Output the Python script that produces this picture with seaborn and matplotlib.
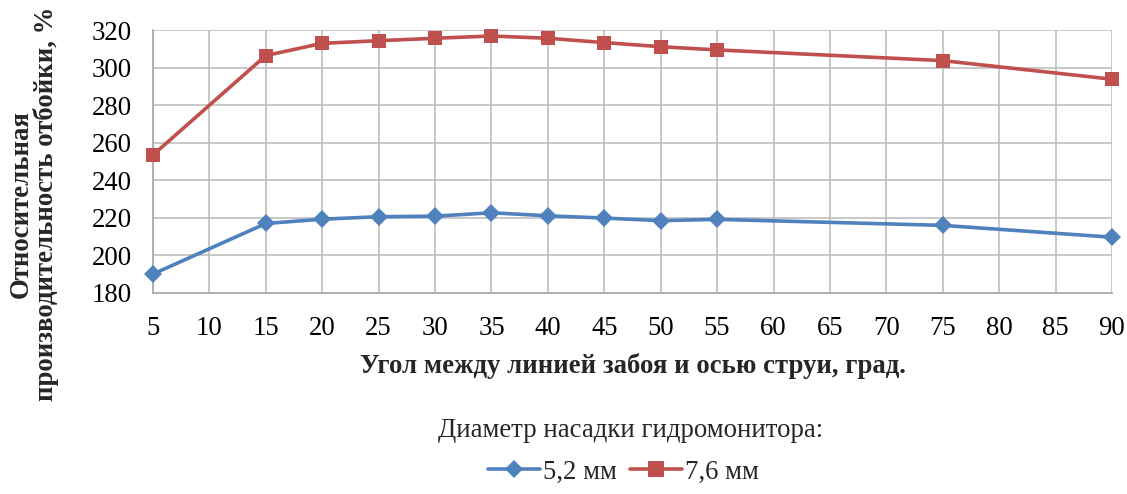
import matplotlib
matplotlib.use("Agg")
import matplotlib.pyplot as plt
import seaborn as sns
import pandas as pd
from matplotlib.lines import Line2D

angles = [5, 15, 20, 25, 30, 35, 40, 45, 50, 55, 75, 90]
d52 = [190.1, 217.0, 219.3, 220.6, 220.9, 222.7, 221.1, 219.9, 218.5, 219.2, 216.0, 209.7]
d76 = [253.5, 306.4, 312.9, 314.3, 315.6, 316.8, 315.6, 313.3, 311.1, 309.4, 303.7, 293.8]
series_names = ["5,2 мм", "7,6 мм"]
x_ticks = list(range(5, 95, 5))
y_ticks = list(range(180, 340, 20))

sns.set_theme(style="white")
plt.rcParams['font.family'] = ['Liberation Serif', 'DejaVu Serif']

df = pd.DataFrame({
    "angle": angles * 2,
    "value": d52 + d76,
    "series": [series_names[0]] * len(angles) + [series_names[1]] * len(angles),
})

FS = 19.3

fig = plt.figure(figsize=(11.27, 4.94), dpi=100)
ax = fig.add_axes([153/1127, 1 - 293/494, (1112-153)/1127, (293-30)/494])

palette = {series_names[0]: "#4F81BD", series_names[1]: "#C0504D"}
markers = {series_names[0]: "D", series_names[1]: "s"}
sns.lineplot(data=df, x="angle", y="value", hue="series", style="series",
             palette=palette, markers=markers, dashes=False, linewidth=2.6,
             markersize=10, markeredgewidth=0, ax=ax, legend=False, zorder=3)
for line in ax.lines:
    line.set_clip_on(False)
    if line.get_marker() == "D":
        line.set_markersize(9)

ax.set_xlim(5, 90)
ax.set_ylim(180, 320)
ax.set_xticks(x_ticks)
ax.set_yticks(y_ticks)
ax.grid(True, color="#BFBFBF", linewidth=1.2, zorder=0)
for s in ["top", "right"]:
    ax.spines[s].set_visible(False)
for s in ["left", "bottom"]:
    ax.spines[s].set_color("#A6A6A6")
    ax.spines[s].set_linewidth(1.2)
ax.tick_params(axis="both", which="major", direction="out", length=5, width=1.2,
               color="#A6A6A6", labelsize=FS, labelcolor="black")
ax.tick_params(axis="y", pad=10)
ax.tick_params(axis="x", pad=11.5)
ax.set_axisbelow(True)

ax.set_xlabel("Угол между линией забоя и осью струи, град.", fontsize=FS,
              fontweight="bold", labelpad=9)
ax.set_ylabel("")
fig.text(34/1127, 1 - 204/494, "Относительная\nпроизводительность отбойки, %",
         fontsize=FS, fontweight="bold", rotation=90, ha="center", va="center",
         multialignment="center", linespacing=1.0)

fig.text(631/1127, 1 - 430/494, "Диаметр насадки гидромонитора:", fontsize=FS,
         ha="center", va="center")

handles = [Line2D([], [], color=palette[n], marker=markers[n], linewidth=2.6,
                  markersize=9 if markers[n] == "D" else 11, markeredgewidth=0)
           for n in series_names]
fig.legend(handles, series_names, loc="center", bbox_to_anchor=(623.5/1127, 1 - 472/494),
           ncol=2, frameon=False, fontsize=FS, handlelength=1.95, handletextpad=0.1,
           columnspacing=0.5, borderpad=0)

fig.savefig("out.png", dpi=100)
